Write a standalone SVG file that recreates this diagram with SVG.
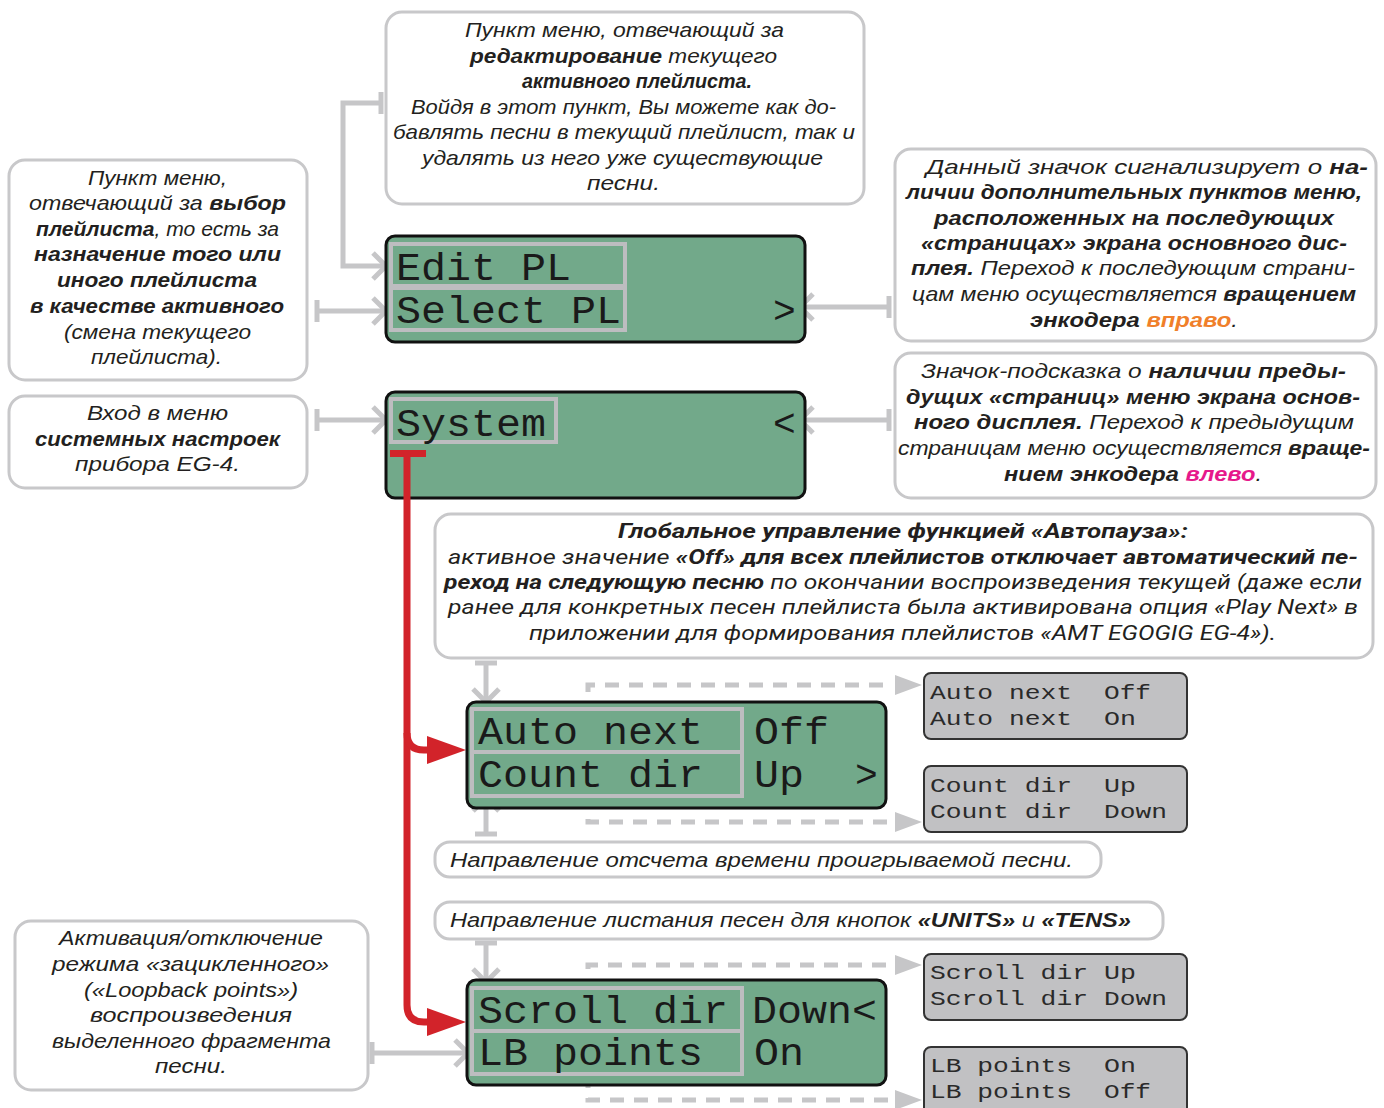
<svg xmlns="http://www.w3.org/2000/svg" width="1384" height="1108" viewBox="0 0 1384 1108">
<style>
.box{fill:#fff;stroke:#c8c8ca;stroke-width:3}
.t{font-family:"Liberation Sans",Arial,sans-serif;font-size:21px;font-style:italic;fill:#231f20}
.c{font-family:"Roboto","Open Sans",sans-serif;font-size:21px;font-style:italic;fill:#231f20}
.b{font-weight:bold}
.lcd{fill:#72a98a;stroke:#111;stroke-width:3}
.slcd{fill:#c1c1c3;stroke:#333;stroke-width:2}
.frame{fill:none;stroke:#bdbdc0;stroke-width:4}
.m{font-family:"Liberation Mono","DejaVu Sans Mono",monospace;font-size:38px;fill:#1a1a1a}
.sm{font-family:"Liberation Mono","DejaVu Sans Mono",monospace;font-size:21px;fill:#2a2a2a}
.conn{fill:none;stroke:#c6c6c8;stroke-width:5}
.dash{fill:none;stroke:#c6c6c8;stroke-width:5;stroke-dasharray:14 10}
.tri{fill:#c6c6c8}
.red{fill:none;stroke:#d2232a;stroke-width:7}
.redf{fill:#d2232a}
</style>

<g id="connectors">
  <path class="conn" d="M381,103 H343 V266 H384"/>
  <path class="conn" d="M381,92 V114"/>
  <path class="conn" d="M373,253 L386,266 L373,279"/>
  <path class="conn" d="M317,311 H384"/>
  <path class="conn" d="M317,300 V322"/>
  <path class="conn" d="M373,298 L386,311 L373,324"/>
  <path class="conn" d="M317,420 H384"/>
  <path class="conn" d="M317,409 V431"/>
  <path class="conn" d="M373,407 L386,420 L373,433"/>
  <path class="conn" d="M889,307 H802"/>
  <path class="conn" d="M889,296 V318"/>
  <path class="conn" d="M813,294 L800,307 L813,320"/>
  <path class="conn" d="M889,420 H802"/>
  <path class="conn" d="M889,409 V431"/>
  <path class="conn" d="M813,407 L800,420 L813,433"/>
  <path class="conn" d="M486,663 V700"/>
  <path class="conn" d="M475,663 H497"/>
  <path class="conn" d="M473,689 L486,702 L499,689"/>
  <path class="conn" d="M486,834 V800"/>
  <path class="conn" d="M475,834 H497"/>
  <path class="conn" d="M473,811 L486,798 L499,811"/>
  <path class="conn" d="M486,943 V980"/>
  <path class="conn" d="M475,943 H497"/>
  <path class="conn" d="M473,969 L486,982 L499,969"/>
  <path class="conn" d="M372,1053 H466"/>
  <path class="conn" d="M372,1042 V1064"/>
  <path class="conn" d="M455,1040 L468,1053 L455,1066"/>
  <path class="dash" d="M588,716 V685 H893"/>
  <polygon class="tri" points="895,675 922,685 895,695"/>
  <path class="dash" d="M588,795 V822 H893"/>
  <polygon class="tri" points="895,812 922,822 895,832"/>
  <path class="dash" d="M588,993 V965 H893"/>
  <polygon class="tri" points="895,955 922,965 895,975"/>
  <path class="dash" d="M588,1074 V1100 H893"/>
  <polygon class="tri" points="895,1090 922,1100 895,1110"/>
</g>

<g id="box-edit">
  <rect class="box" x="386" y="12" width="478" height="192" rx="16"/>
  <text class="t" x="465" y="37" textLength="319" lengthAdjust="spacingAndGlyphs">Пункт меню, отвечающий за</text>
  <text class="t" x="470" y="63" textLength="307" lengthAdjust="spacingAndGlyphs"><tspan class="b">редактирование</tspan> текущего</text>
  <text class="t b" x="522" y="88" textLength="230" lengthAdjust="spacingAndGlyphs">активного плейлиста.</text>
  <text class="t" x="411" y="114" textLength="425" lengthAdjust="spacingAndGlyphs">Войдя в этот пункт, Вы можете как до-</text>
  <text class="t" x="393" y="139" textLength="462" lengthAdjust="spacingAndGlyphs">бавлять песни в текущий плейлист, так и</text>
  <text class="t" x="422" y="165" textLength="401" lengthAdjust="spacingAndGlyphs">удалять из него уже существующие</text>
  <text class="t" x="587" y="190" textLength="73" lengthAdjust="spacingAndGlyphs">песни.</text>
</g>

<g id="box-select">
  <rect class="box" x="9" y="160" width="298" height="220" rx="16"/>
  <text class="t" x="88" y="185" textLength="139" lengthAdjust="spacingAndGlyphs">Пункт меню,</text>
  <text class="t" x="29" y="210" textLength="257" lengthAdjust="spacingAndGlyphs">отвечающий за <tspan class="b">выбор</tspan></text>
  <text class="t" x="36" y="236" textLength="243" lengthAdjust="spacingAndGlyphs"><tspan class="b">плейлиста</tspan>, то есть за</text>
  <text class="t b" x="34" y="261" textLength="247" lengthAdjust="spacingAndGlyphs">назначение того или</text>
  <text class="t b" x="57" y="287" textLength="200" lengthAdjust="spacingAndGlyphs">иного плейлиста</text>
  <text class="t b" x="30" y="313" textLength="254" lengthAdjust="spacingAndGlyphs">в качестве активного</text>
  <text class="t" x="64" y="339" textLength="187" lengthAdjust="spacingAndGlyphs">(смена текущего</text>
  <text class="t" x="91" y="364" textLength="131" lengthAdjust="spacingAndGlyphs">плейлиста).</text>
</g>

<g id="box-system">
  <rect class="box" x="9" y="396" width="298" height="92" rx="16"/>
  <text class="t" x="87" y="420" textLength="141" lengthAdjust="spacingAndGlyphs">Вход в меню</text>
  <text class="t b" x="35" y="446" textLength="245" lengthAdjust="spacingAndGlyphs">системных настроек</text>
  <text class="t" x="75" y="471" textLength="165" lengthAdjust="spacingAndGlyphs">прибора EG-4.</text>
</g>

<g id="box-next">
  <rect class="box" x="895" y="149" width="481" height="192" rx="16"/>
  <text class="t" x="926" y="174" textLength="442" lengthAdjust="spacingAndGlyphs">Данный значок сигнализирует о <tspan class="b">на-</tspan></text>
  <text class="t b" x="906" y="199" textLength="456" lengthAdjust="spacingAndGlyphs">личии дополнительных пунктов меню,</text>
  <text class="t b" x="934" y="225" textLength="400" lengthAdjust="spacingAndGlyphs">расположенных на последующих</text>
  <text class="t b" x="921" y="250" textLength="426" lengthAdjust="spacingAndGlyphs">«страницах» экрана основного дис-</text>
  <text class="t" x="911" y="275" textLength="444" lengthAdjust="spacingAndGlyphs"><tspan class="b">плея.</tspan> Переход к последующим страни-</text>
  <text class="t" x="912" y="301" textLength="444" lengthAdjust="spacingAndGlyphs">цам меню осуществляется <tspan class="b">вращением</tspan></text>
  <text class="t" x="1030" y="327" textLength="208" lengthAdjust="spacingAndGlyphs"><tspan class="b">энкодера </tspan><tspan class="b" fill="#f07f2a">вправо</tspan>.</text>
</g>

<g id="box-prev">
  <rect class="box" x="895" y="353" width="481" height="145" rx="16"/>
  <text class="t" x="921" y="378" textLength="425" lengthAdjust="spacingAndGlyphs">Значок-подсказка о <tspan class="b">наличии преды-</tspan></text>
  <text class="t b" x="906" y="404" textLength="454" lengthAdjust="spacingAndGlyphs">дущих «страниц» меню экрана основ-</text>
  <text class="t" x="914" y="429" textLength="440" lengthAdjust="spacingAndGlyphs"><tspan class="b">ного дисплея.</tspan> Переход к предыдущим</text>
  <text class="t" x="898" y="455" textLength="472" lengthAdjust="spacingAndGlyphs">страницам меню осуществляется <tspan class="b">враще-</tspan></text>
  <text class="t" x="1004" y="481" textLength="258" lengthAdjust="spacingAndGlyphs"><tspan class="b">нием энкодера </tspan><tspan class="b" fill="#e6198b">влево</tspan>.</text>
</g>

<g id="lcd-main1">
  <rect class="lcd" x="386" y="236" width="419" height="106" rx="9"/>
  <rect class="frame" x="391" y="244" width="234" height="42"/>
  <rect class="frame" x="391" y="288" width="234" height="42"/>
  <text class="m" x="396" y="280" textLength="175" lengthAdjust="spacingAndGlyphs">Edit PL</text>
  <text class="m" x="396" y="323" textLength="225" lengthAdjust="spacingAndGlyphs">Select PL</text>
  <text class="m" x="773" y="323">&gt;</text>
</g>

<g id="lcd-main2">
  <rect class="lcd" x="386" y="392" width="419" height="106" rx="9"/>
  <rect class="frame" x="391" y="399" width="165" height="43"/>
  <text class="m" x="396" y="436" textLength="150" lengthAdjust="spacingAndGlyphs">System</text>
  <text class="m" x="773" y="436">&lt;</text>
</g>

<g id="red-arrows">
  <path class="red" d="M390,453.5 H426"/>
  <path class="red" d="M407,453 V1005 Q407,1022 424,1022 H432"/>
  <path class="red" d="M407,733 Q407,750 424,750 H432"/>
  <polygon class="redf" points="427,736 466,750 427,764"/>
  <polygon class="redf" points="427,1008 466,1022 427,1036"/>
</g>

<g id="box-autopause">
  <rect class="box" x="435" y="514" width="938" height="144" rx="16"/>
  <text class="c b" x="618" y="538" textLength="570" lengthAdjust="spacingAndGlyphs">Глобальное управление функцией «Автопауза»:</text>
  <text class="c" x="448" y="564" textLength="910" lengthAdjust="spacingAndGlyphs">активное значение <tspan class="b">«Off» для всех плейлистов отключает автоматический пе-</tspan></text>
  <text class="c" x="444" y="589" textLength="918" lengthAdjust="spacingAndGlyphs"><tspan class="b">реход на следующую песню</tspan> по окончании воспроизведения текущей (даже если</text>
  <text class="c" x="448" y="614" textLength="910" lengthAdjust="spacingAndGlyphs">ранее для конкретных песен плейлиста была активирована опция «Play Next» в</text>
  <text class="c" x="529" y="640" textLength="747" lengthAdjust="spacingAndGlyphs">приложении для формирования плейлистов «AMT EGOGIG EG-4»).</text>
</g>

<g id="lcd-autonext">
  <rect class="lcd" x="467" y="702" width="419" height="106" rx="9"/>
  <rect class="frame" x="472" y="709" width="270" height="43"/>
  <rect class="frame" x="472" y="752" width="270" height="44"/>
  <text class="m" x="478" y="744" textLength="225" lengthAdjust="spacingAndGlyphs">Auto next</text>
  <text class="m" x="754" y="744" textLength="75" lengthAdjust="spacingAndGlyphs">Off</text>
  <text class="m" x="478" y="787" textLength="225" lengthAdjust="spacingAndGlyphs">Count dir</text>
  <text class="m" x="754" y="787" textLength="50" lengthAdjust="spacingAndGlyphs">Up</text>
  <text class="m" x="855" y="787">&gt;</text>
</g>

<g id="opt-autonext">
  <rect class="slcd" x="924" y="673" width="263" height="66" rx="7"/>
  <text class="sm" x="930" y="699" textLength="142" lengthAdjust="spacingAndGlyphs">Auto next</text>
  <text class="sm" x="1104" y="699" textLength="47" lengthAdjust="spacingAndGlyphs">Off</text>
  <text class="sm" x="930" y="725" textLength="142" lengthAdjust="spacingAndGlyphs">Auto next</text>
  <text class="sm" x="1104" y="725" textLength="32" lengthAdjust="spacingAndGlyphs">On</text>
</g>

<g id="opt-countdir">
  <rect class="slcd" x="924" y="766" width="263" height="66" rx="7"/>
  <text class="sm" x="930" y="792" textLength="142" lengthAdjust="spacingAndGlyphs">Count dir</text>
  <text class="sm" x="1104" y="792" textLength="32" lengthAdjust="spacingAndGlyphs">Up</text>
  <text class="sm" x="930" y="818" textLength="142" lengthAdjust="spacingAndGlyphs">Count dir</text>
  <text class="sm" x="1104" y="818" textLength="63" lengthAdjust="spacingAndGlyphs">Down</text>
</g>

<g id="box-count">
  <rect class="box" x="435" y="842" width="666" height="35" rx="15"/>
  <text class="t" x="450" y="867" textLength="623" lengthAdjust="spacingAndGlyphs">Направление отсчета времени проигрываемой песни.</text>
</g>

<g id="box-scroll">
  <rect class="box" x="435" y="902" width="728" height="37" rx="15"/>
  <text class="t" x="450" y="927" textLength="681" lengthAdjust="spacingAndGlyphs">Направление листания песен для кнопок <tspan class="b">«UNITS»</tspan> и <tspan class="b">«TENS»</tspan></text>
</g>

<g id="box-lb">
  <rect class="box" x="15" y="921" width="353" height="169" rx="16"/>
  <text class="t" x="59" y="945" textLength="264" lengthAdjust="spacingAndGlyphs">Активация/отключение</text>
  <text class="t" x="52" y="971" textLength="277" lengthAdjust="spacingAndGlyphs">режима «зацикленного»</text>
  <text class="t" x="84" y="997" textLength="214" lengthAdjust="spacingAndGlyphs">(«Loopback points»)</text>
  <text class="t" x="90" y="1022" textLength="202" lengthAdjust="spacingAndGlyphs">воспроизведения</text>
  <text class="t" x="52" y="1048" textLength="279" lengthAdjust="spacingAndGlyphs">выделенного фрагмента</text>
  <text class="t" x="155" y="1073" textLength="72" lengthAdjust="spacingAndGlyphs">песни.</text>
</g>

<g id="lcd-scroll">
  <rect class="lcd" x="467" y="980" width="419" height="105" rx="9"/>
  <rect class="frame" x="472" y="988" width="270" height="43"/>
  <rect class="frame" x="472" y="1031" width="270" height="43"/>
  <text class="m" x="478" y="1023" textLength="250" lengthAdjust="spacingAndGlyphs">Scroll dir</text>
  <text class="m" x="752" y="1023" textLength="125" lengthAdjust="spacingAndGlyphs">Down&lt;</text>
  <text class="m" x="478" y="1065" textLength="225" lengthAdjust="spacingAndGlyphs">LB points</text>
  <text class="m" x="754" y="1065" textLength="50" lengthAdjust="spacingAndGlyphs">On</text>
</g>

<g id="opt-scroll">
  <rect class="slcd" x="924" y="954" width="263" height="66" rx="7"/>
  <text class="sm" x="930" y="979" textLength="158" lengthAdjust="spacingAndGlyphs">Scroll dir</text>
  <text class="sm" x="1104" y="979" textLength="32" lengthAdjust="spacingAndGlyphs">Up</text>
  <text class="sm" x="930" y="1005" textLength="158" lengthAdjust="spacingAndGlyphs">Scroll dir</text>
  <text class="sm" x="1104" y="1005" textLength="63" lengthAdjust="spacingAndGlyphs">Down</text>
</g>

<g id="opt-lb">
  <rect class="slcd" x="924" y="1047" width="263" height="70" rx="7"/>
  <text class="sm" x="930" y="1072" textLength="142" lengthAdjust="spacingAndGlyphs">LB points</text>
  <text class="sm" x="1104" y="1072" textLength="32" lengthAdjust="spacingAndGlyphs">On</text>
  <text class="sm" x="930" y="1098" textLength="142" lengthAdjust="spacingAndGlyphs">LB points</text>
  <text class="sm" x="1104" y="1098" textLength="47" lengthAdjust="spacingAndGlyphs">Off</text>
</g>
</svg>
